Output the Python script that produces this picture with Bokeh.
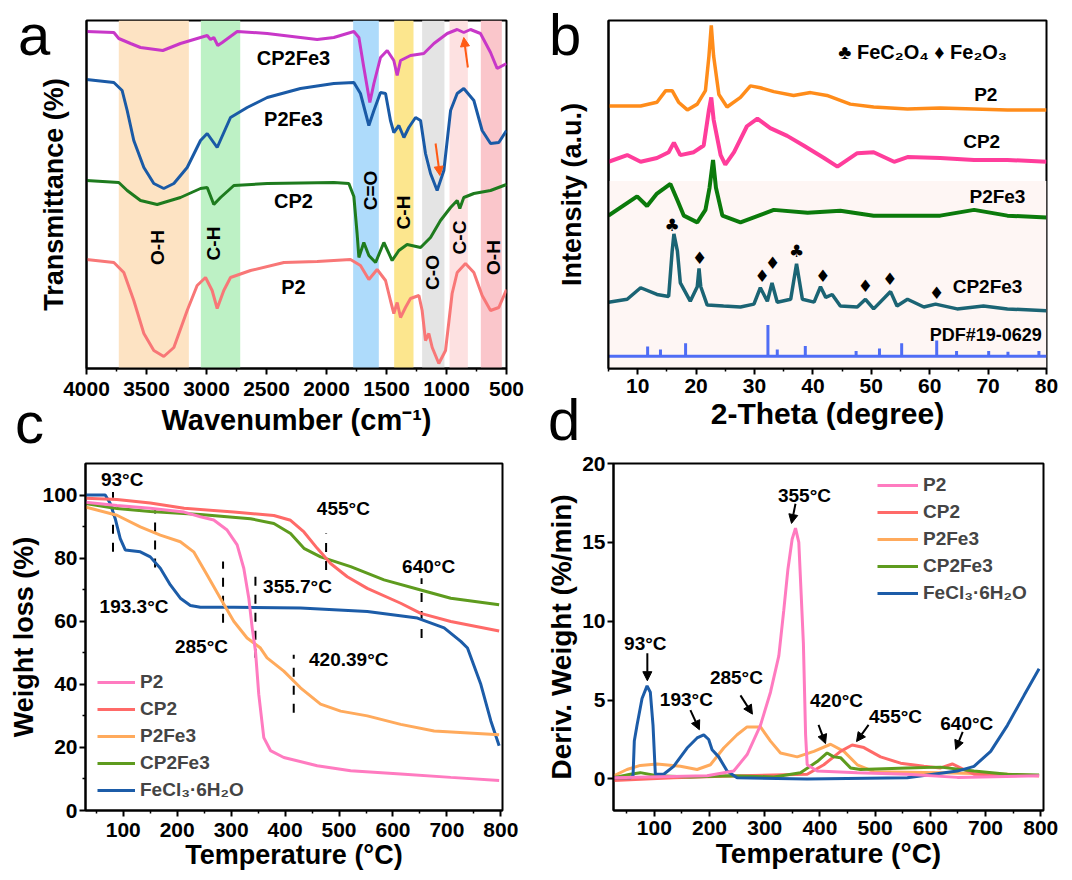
import numpy as np
from bokeh.plotting import figure
from bokeh.models import (Range1d, FixedTicker, Legend, LegendItem, Arrow,
                          NormalHead, ColumnDataSource, Div)
from bokeh.layouts import column, row
from bokeh.embed import file_html
from bokeh.resources import INLINE
from bokeh.core.properties import value

FONT = "Liberation Sans"

# ---------------- Panel a : FTIR (wavenumber, transmittance a.u.) ----------------
ftir_cp2fe3_w = [4000, 3772, 3731, 3633, 3550, 3364, 3217, 3050, 2994, 2967, 2939, 2906, 2869, 2744, 2494,
                 2217, 2078, 1939, 1772, 1730, 1689, 1639, 1605, 1550, 1494, 1439, 1411, 1383, 1300, 1189,
                 1105, 994, 911, 856, 800, 717, 633, 578, 500]
ftir_cp2fe3_t = [337, 336, 330, 325, 321, 318, 325, 331, 333, 329, 331, 323, 326, 337, 335,
                 331, 329, 331, 337, 331, 301, 266, 285, 311, 318, 308, 293, 308, 313, 315,
                 325, 335, 339, 336, 339, 335, 316, 300, 305]
ftir_p2fe3_w = [4000, 3772, 3703, 3661, 3606, 3522, 3439, 3356, 3272, 3161, 3050, 2994, 2911, 2800, 2661,
                2494, 2217, 1939, 1772, 1717, 1647, 1605, 1550, 1508, 1467, 1439, 1397, 1355, 1314, 1258,
                1216, 1175, 1133, 1078, 1022, 966, 911, 856, 772, 703, 633, 564, 500]
ftir_p2fe3_t = [289, 286, 278, 258, 228, 201, 185, 180, 185, 201, 228, 235, 221, 251, 261,
                271, 280, 285, 286, 275, 243, 258, 276, 275, 248, 236, 243, 231, 241, 251,
                248, 215, 195, 178, 198, 258, 275, 280, 268, 238, 225, 226, 238]
ftir_cp2_w = [4000, 3731, 3661, 3550, 3411, 3217, 3050, 2994, 2939, 2883, 2772, 2494, 1939, 1814, 1772,
              1745, 1730, 1689, 1647, 1591, 1522, 1453, 1397, 1328, 1216, 1133, 1050, 966, 911, 889,
              856, 772, 633, 500]
ftir_cp2_t = [188, 186, 178, 168, 164, 171, 180, 181, 164, 171, 183, 185, 186, 185, 172,
              135, 111, 126, 113, 106, 126, 108, 118, 124, 121, 131, 148, 161, 168, 160,
              171, 175, 178, 184]
ftir_p2_w = [4000, 3772, 3689, 3606, 3522, 3439, 3356, 3272, 3161, 3078, 3008, 2953, 2911, 2856, 2800,
             2633, 2355, 2078, 1800, 1717, 1647, 1578, 1508, 1467, 1439, 1411, 1383, 1342, 1300, 1230,
             1203, 1175, 1147, 1119, 1064, 1008, 953, 911, 842, 772, 703, 633, 564, 500]
ftir_p2_t = [109, 106, 96, 68, 35, 18, 12, 21, 58, 83, 91, 78, 60, 78, 91,
             98, 106, 107, 109, 103, 89, 99, 88, 68, 55, 66, 51, 61, 70, 73,
             58, 28, 35, 21, 5, 18, 75, 96, 105, 96, 73, 58, 61, 79]
band_lo = [3731, 3047, 1778, 1436, 1203, 975, 714]
band_hi = [3147, 2719, 1564, 1275, 1017, 822, 539]
band_colors = ["#FDE3C3", "#BDF1C5", "#AEDBFB", "#FCE68E", "#E4E4E4", "#FDE1E1", "#FAC6CB"]
band_names = ["O-H", "C-H", "C=O", "C-H", "C-O", "C-C", "O-H"]

# ---------------- Panel b : XRD (2-theta, intensity a.u.) ----------------
xrd_p2_x = [5.0, 10.5, 13.3, 14.8, 15.9, 17.0, 18.5, 20.2, 21.6, 22.2, 22.6, 23.0, 23.9, 25.3, 27.6, 29.3,
            31.0, 33.3, 36.7, 39.6, 42.4, 46.4, 50.4, 56.2, 61.8, 67.6, 73.3, 80.0]
xrd_p2_y = [273, 273, 277, 289, 289, 277, 269, 275, 289, 325, 357, 325, 285, 272, 282, 294,
            292, 288, 284, 287, 284, 275, 272, 270, 271, 270, 269, 269]
xrd_cp2_x = [5.0, 8.2, 10.5, 13.3, 15.3, 16.2, 17.3, 19.6, 21.3, 22.2, 22.6, 23.0, 24.2, 25.0, 26.5, 28.7,
             30.5, 32.7, 35.6, 38.4, 41.9, 44.2, 47.6, 50.4, 53.9, 56.2, 61.8, 67.6, 73.3, 80.0]
xrd_cp2_y = [215, 222, 215, 219, 225, 235, 222, 225, 232, 269, 282, 259, 222, 212, 225, 252,
             260, 250, 242, 232, 219, 210, 224, 225, 215, 220, 219, 217, 217, 215]
xrd_p2fe3_x = [5.0, 9.9, 11.6, 13.3, 15.6, 16.8, 17.9, 20.2, 21.6, 22.3, 22.9, 23.4, 24.5, 27.6, 33.3,
               39.1, 44.7, 50.4, 56.2, 61.8, 67.6, 73.3, 80.0]
xrd_p2fe3_y = [159, 179, 169, 182, 192, 175, 159, 152, 165, 188, 217, 188, 159, 152, 165,
               162, 164, 159, 159, 159, 165, 159, 157]
xrd_cp2fe3_x = [5.0, 8.2, 10.5, 13.3, 15.3, 15.9, 16.2, 16.8, 17.3, 19.0, 20.2, 20.5, 20.8, 21.9, 24.7,
                27.6, 29.9, 31.0, 32.2, 33.0, 33.9, 36.2, 37.2, 38.2, 40.2, 41.3, 42.2, 43.3, 44.7,
                47.6, 49.0, 50.4, 53.3, 54.4, 56.2, 59.0, 61.0, 64.7, 69.2, 73.3, 80.0]
xrd_cp2fe3_y = [69, 72, 84, 77, 75, 122, 140, 122, 89, 70, 85, 104, 85, 66, 65,
                64, 67, 84, 70, 89, 69, 72, 109, 72, 69, 85, 74, 77, 65,
                64, 72, 62, 80, 65, 72, 64, 67, 62, 65, 62, 60]
pdf_x = [11.7, 13.9, 18.2, 32.3, 33.9, 38.7, 47.4, 51.4, 55.2, 61.2, 64.6, 70.1, 73.4, 78.7]
pdf_h = [10.3, 7.0, 13.6, 32.6, 7.0, 10.6, 5.6, 8.0, 13.6, 16.3, 5.6, 5.6, 4.8, 5.6]
pdf_base = 12.7
club_x = [15.9, 37.2]
club_y = [149, 122]
diam_x = [20.6, 31.3, 33.1, 41.7, 49.0, 53.2, 61.2]
diam_y = [115, 96, 110, 96, 86, 93, 79]

# ---------------- Panel c : TGA (temperature, weight %) ----------------
tga_fecl3_x = [30, 66.6, 75.9, 85.1, 94.4, 103.7, 131.6, 150.1, 168.7, 187.3, 205.8, 224.4, 243.0, 304.8,
               428.6, 552.4, 645.3, 694.8, 725.7, 738.1, 762.8, 781.4, 796.8]
tga_fecl3_y = [100, 100, 97.3, 92.5, 86.2, 82.6, 82.0, 80.4, 76.8, 71.5, 67.3, 65.0, 64.4, 64.4,
               64.2, 63.1, 61.0, 57.9, 53.6, 51.5, 40.0, 28.4, 20.5]
tga_p2_x = [30, 88.3, 150, 212.8, 243, 267.7, 292.5, 311.1, 323.4, 332.7, 339, 345.1, 351.2, 360.5, 372.9,
            397.6, 459.5, 521.5, 614.3, 707.1, 796.8]
tga_p2_y = [97.7, 96.7, 95.8, 94.6, 93.1, 92.1, 88.9, 84.2, 76.8, 67.3, 57.9, 50.5, 36.8, 23.1, 19.0,
            16.8, 14.2, 12.6, 11.6, 10.5, 9.5]
tga_cp2_x = [30, 88.3, 150, 212.8, 304.8, 379.2, 410.1, 434.9, 459.6, 484.3, 515.3, 552.4, 614.3, 651.4,
             707.1, 796.8]
tga_cp2_y = [99, 98.6, 97.5, 95.8, 94.6, 93.5, 92.0, 88.3, 83.1, 78.3, 74.1, 70.4, 65.7, 62.5, 59.9, 56.9]
tga_p2fe3_x = [30, 88.3, 131.6, 168.7, 205.8, 230.5, 255.2, 280, 304.8, 329.5, 354.3, 366.6, 397.6, 428.5,
               465.7, 502.9, 552.4, 614.3, 676.2, 796.8]
tga_p2fe3_y = [96.2, 93.6, 89.9, 87.3, 85.2, 82.0, 74.7, 67.3, 60.0, 54.7, 51.5, 48.4, 44.2, 38.9,
               33.7, 31.5, 30.0, 27.3, 25.2, 24.0]
tga_cp2fe3_x = [30, 88.3, 150, 243, 335.8, 379.2, 410.1, 434.9, 465.8, 521.5, 583.4, 651.4, 707.1, 796.8]
tga_cp2fe3_y = [97.3, 95.7, 94.8, 93.8, 92.5, 91.0, 87.8, 83.1, 80.4, 77.3, 73.1, 69.9, 67.3, 65.2]
tga_mark_x = [81, 159, 285, 345, 416, 476, 653]
tga_mark_lo = [82, 77, 59.5, 48.4, 31, 76.2, 54.7]
tga_mark_hi = [101, 95.7, 78.9, 74.7, 49.4, 87.8, 73.6]
tga_lab_text = ["93°C", "193.3°C", "285°C", "355.7°C", "455°C", "640°C", "420.39°C"]

# ---------------- Panel d : DTG (temperature, %/min) ----------------
dtg_fecl3_x = [26, 56.5, 61.4, 63.7, 68.6, 77.7, 86.8, 92.7, 97.6, 101.8, 116.9, 135, 159.3, 177.4, 189.5,
               198.5, 204.6, 216.6, 231.8, 249.9, 376.9, 558.2, 648.9, 679.1, 709.3, 739.6, 769.8, 797]
dtg_fecl3_y = [0.08, 0.08, 0.2, 2.4, 3.4, 5.1, 5.9, 5.5, 3.4, 0.3, 0.3, 0.8, 1.96, 2.6, 2.8,
               2.5, 1.85, 1.4, 0.5, 0.08, 0.0, 0.08, 0.5, 0.8, 1.75, 3.4, 5.3, 6.98]
dtg_p2_x = [26, 195.5, 243.8, 268.1, 292.2, 310.4, 325.5, 334.5, 342, 349.6, 355.7, 361.7, 366, 370, 374,
            376.9, 395, 467.6, 558, 649, 797]
dtg_p2_y = [0.08, 0.2, 0.5, 1.55, 3.4, 5.5, 7.8, 10.7, 13.3, 15.2, 15.9, 15.0, 11.7, 8.6, 2.8,
            0.9, 0.5, 0.4, 0.3, 0.1, 0.2]
dtg_cp2_x = [26, 135, 256, 377, 407, 437.3, 458.4, 479.6, 509.8, 546.1, 588.4, 618.6, 639.8, 660.9, 679, 797]
dtg_cp2_y = [-0.1, 0.08, 0.2, 0.3, 0.9, 1.75, 2.15, 1.99, 1.4, 1.0, 0.8, 0.7, 0.95, 0.6, 0.3, 0.2]
dtg_p2fe3_x = [26, 50.4, 74.6, 104.8, 147.2, 177.4, 201.6, 225.7, 249.9, 268, 292.2, 310.4, 328.5, 358.8,
               389, 419.2, 443.4, 467.6, 497.7, 618.6, 739.6, 797]
dtg_p2fe3_y = [0.2, 0.6, 0.86, 0.95, 0.8, 0.6, 0.9, 1.96, 2.8, 3.3, 3.3, 2.4, 1.65, 1.4,
               1.75, 2.2, 1.75, 0.9, 0.46, 0.4, 0.3, 0.2]
dtg_cp2fe3_x = [26, 56.5, 74.6, 104.8, 165.3, 237.8, 316.4, 364.8, 395, 413.1, 425.2, 437.3, 455.4, 473.5,
                558.2, 618.6, 679, 739.6, 797]
dtg_cp2fe3_y = [0.08, 0.3, 0.4, 0.2, 0.13, 0.2, 0.13, 0.4, 1.1, 1.65, 1.4, 1.35, 0.7, 0.6,
                0.7, 0.75, 0.5, 0.3, 0.25]
dtg_lab_text = ["93°C", "193°C", "285°C", "355°C", "420°C", "455°C", "640°C"]

series_names = ["P2", "CP2", "P2Fe3", "CP2Fe3", "FeCl₃·6H₂O"]
panel_letters = ["a", "b", "c", "d"]
col_p2, col_cp2, col_p2fe3, col_cp2fe3, col_fecl3 = "#FF7BC0", "#FF6A68", "#FFAA5C", "#5E9B1E", "#1C5CA8"


def base_fig(w, h, xr, yr, bl, br, bt, bb):
    p = figure(width=w, height=h, x_range=xr, y_range=yr, output_backend="svg",
               toolbar_location=None, min_border_left=bl, min_border_right=br,
               min_border_top=bt, min_border_bottom=bb)
    p.grid.visible = False
    p.outline_line_color = "black"
    p.outline_line_width = 2
    p.outline_line_alpha = 1
    p.background_fill_color = "white"
    p.border_fill_color = "white"
    for ax in [p.xaxis[0], p.yaxis[0]]:
        ax.axis_line_width = 2
        ax.axis_line_color = "black"
        ax.major_tick_line_width = 2
        ax.minor_tick_line_width = 1.5
        ax.major_tick_in = 0
        ax.major_tick_out = 6
        ax.minor_tick_in = 0
        ax.minor_tick_out = 3
        ax.major_label_text_font = FONT
        ax.major_label_text_font_style = "bold"
        ax.major_label_text_font_size = "21px"
        ax.major_label_text_color = "black"
        ax.axis_label_text_font = FONT
        ax.axis_label_text_font_style = "bold"
        ax.axis_label_text_font_size = "27px"
        ax.axis_label_text_color = "black"
    return p


def txt(p, xs, ys, texts, size, angle=0.0, bold=True, align="center"):
    p.text(x=xs, y=ys, text=texts, text_font=value(FONT), text_font_size=size,
           text_font_style="bold" if bold else "normal", text_align=align,
           text_baseline="middle", text_color="black", angle=angle)


def letter(ch, left, top):
    return Div(text=f'<span style="font-family:\'Liberation Sans\';font-size:58px;line-height:58px;'
                    f'color:black;font-weight:normal">{ch}</span>',
               width=50, height=66,
               styles={"position": "absolute", "left": f"{left}px", "top": f"{top}px",
                       "margin": "0", "padding": "0", "z-index": "10"})


# ================= Panel a =================
pa = base_fig(540, 446, Range1d(4000, 500), Range1d(0, 348), 86, 34, 20, 78)
pa.quad(left=band_lo, right=band_hi, bottom=0, top=348, fill_color=band_colors, line_color=None)
pa.line(ftir_cp2fe3_w, ftir_cp2fe3_t, color="#C837C8", line_width=3)
pa.line(ftir_p2fe3_w, ftir_p2fe3_t, color="#1A5AA6", line_width=3)
pa.line(ftir_cp2_w, ftir_cp2_t, color="#1E7B1E", line_width=3)
pa.line(ftir_p2_w, ftir_p2_t, color="#F87777", line_width=3)
txt(pa, [2275, 2275, 2275, 2275], [311, 250, 168, 82], ["CP2Fe3", "P2Fe3", "CP2", "P2"], "20px")
txt(pa, [3408, 2942, 1633, 1358, 1117, 892, 608], [121, 125, 178, 156, 96, 131, 111], band_names,
    "19px", angle=np.pi / 2)
arr_a = ColumnDataSource(dict(x0=[822, 1091], y0=[301, 225], x1=[856, 1055], y1=[331, 193]))
pa.add_layout(Arrow(end=NormalHead(size=9, fill_color="#FF5A14", line_color="#FF5A14"),
                    x_start="x0", y_start="y0", x_end="x1", y_end="y1", source=arr_a,
                    line_color="#FF5A14", line_width=2))
pa.xaxis.ticker = FixedTicker(ticks=[4000, 3500, 3000, 2500, 2000, 1500, 1000, 500],
                              minor_ticks=[3750, 3250, 2750, 2250, 1750, 1250, 750])
pa.xaxis.axis_label = "Wavenumber (cm⁻¹)"
pa.xaxis.axis_label_text_font_size = "29px"
pa.xaxis.major_label_standoff = 7
pa.xaxis.axis_label_standoff = 5
pa.yaxis.ticker = FixedTicker(ticks=[])
pa.yaxis.major_tick_out = 0
pa.yaxis.axis_label = "Transmittance (%)"
pa.yaxis.axis_label_standoff = 18

# ================= Panel b =================
pb = base_fig(532, 446, Range1d(5, 80), Range1d(0, 362), 68, 26, 10, 74)
pb.quad(left=5, right=80, bottom=0, top=195, fill_color="#FEF6F4", line_color=None)
pb.line(xrd_p2_x, xrd_p2_y, color="#FF8C1A", line_width=3.5)
pb.line(xrd_cp2_x, xrd_cp2_y, color="#FF3D9B", line_width=4)
pb.line(xrd_p2fe3_x, xrd_p2fe3_y, color="#0B7A0B", line_width=4)
pb.line(xrd_cp2fe3_x, xrd_cp2fe3_y, color="#1B6474", line_width=3.5)
pb.segment(x0=pdf_x, y0=pdf_base, x1=pdf_x, y1=[pdf_base + h for h in pdf_h], color="#4F6DF5", line_width=3)
pb.segment(x0=5, y0=pdf_base, x1=80, y1=pdf_base, color="#4F6DF5", line_width=3)
pb.text(x=club_x, y=club_y, text=["♣"] * len(club_x), text_font=value("DejaVu Sans"), text_font_size="17px",
        text_align="center", text_baseline="middle", text_color="black")
pb.text(x=diam_x, y=diam_y, text=["♦"] * len(diam_x), text_font=value("DejaVu Sans"), text_font_size="17px",
        text_align="center", text_baseline="middle", text_color="black")
txt(pb, [69.6, 68.9, 71.6, 69.9], [285, 236, 179, 85], ["P2", "CP2", "P2Fe3", "CP2Fe3"], "19px")
txt(pb, [69.6], [35], ["PDF#19-0629"], "18px")
txt(pb, [58.8], [329], ["♣ FeC₂O₄ ♦ Fe₂O₃"], "20px")
pb.xaxis.ticker = FixedTicker(ticks=[10, 20, 30, 40, 50, 60, 70, 80],
                              minor_ticks=[5, 15, 25, 35, 45, 55, 65, 75])
pb.xaxis.axis_label = "2-Theta (degree)"
pb.xaxis.axis_label_text_font_size = "30px"
pb.xaxis.major_label_standoff = 4
pb.xaxis.axis_label_standoff = 1
pb.yaxis.ticker = FixedTicker(ticks=[])
pb.yaxis.major_tick_out = 0
pb.yaxis.axis_label = "Intensity (a.u.)"
pb.yaxis.axis_label_standoff = 22

# ================= Panel c =================
pc = base_fig(540, 434, Range1d(30, 803), Range1d(0, 110), 85, 38, 17, 70)
pc.segment(x0=tga_mark_x, y0=tga_mark_lo, x1=tga_mark_x, y1=tga_mark_hi, color="black",
           line_width=2, line_dash="9 9")
rc_fecl3 = pc.line(tga_fecl3_x, tga_fecl3_y, color=col_fecl3, line_width=3)
rc_cp2fe3 = pc.line(tga_cp2fe3_x, tga_cp2fe3_y, color=col_cp2fe3, line_width=3)
rc_cp2 = pc.line(tga_cp2_x, tga_cp2_y, color=col_cp2, line_width=3)
rc_p2fe3 = pc.line(tga_p2fe3_x, tga_p2fe3_y, color=col_p2fe3, line_width=3)
rc_p2 = pc.line(tga_p2_x, tga_p2_y, color=col_p2, line_width=3)
txt(pc, [98, 120, 245, 423, 508, 666, 518], [105, 64.7, 52, 71, 95.6, 77.3, 48], tga_lab_text, "19px")
pc.add_layout(Legend(items=[LegendItem(label=n, renderers=[r]) for n, r in
                            zip(series_names, [rc_p2, rc_cp2, rc_p2fe3, rc_cp2fe3, rc_fecl3])],
                     location=(12, 9), glyph_width=38, glyph_height=20, label_height=20, spacing=5,
                     padding=0, margin=0, label_standoff=5, border_line_color=None,
                     background_fill_alpha=0, label_text_font=FONT, label_text_font_style="bold",
                     label_text_font_size="19px"))
pc.xaxis.ticker = FixedTicker(ticks=[100, 200, 300, 400, 500, 600, 700, 800],
                              minor_ticks=[50, 150, 250, 350, 450, 550, 650, 750])
pc.yaxis.ticker = FixedTicker(ticks=[0, 20, 40, 60, 80, 100], minor_ticks=[10, 30, 50, 70, 90])
pc.xaxis.axis_label = "Temperature (°C)"
pc.yaxis.axis_label = "Weight loss (%)"
pc.xaxis.major_label_standoff = 6
pc.xaxis.axis_label_standoff = 0
pc.yaxis.major_label_standoff = 2
pc.yaxis.axis_label_standoff = 0

# ================= Panel d =================
pd_ = base_fig(532, 434, Range1d(26, 805), Range1d(-2, 20), 73, 29, 11, 70)
rd_p2fe3 = pd_.line(dtg_p2fe3_x, dtg_p2fe3_y, color=col_p2fe3, line_width=3)
rd_cp2 = pd_.line(dtg_cp2_x, dtg_cp2_y, color=col_cp2, line_width=3)
rd_cp2fe3 = pd_.line(dtg_cp2fe3_x, dtg_cp2fe3_y, color=col_cp2fe3, line_width=3)
rd_fecl3 = pd_.line(dtg_fecl3_x, dtg_fecl3_y, color=col_fecl3, line_width=3)
rd_p2 = pd_.line(dtg_p2_x, dtg_p2_y, color=col_p2, line_width=3)
txt(pd_, [83.7, 158, 248.7, 372, 430, 537, 666], [8.6, 5.05, 6.42, 17.94, 4.98, 3.93, 3.49],
    dtg_lab_text, "19px")
arr_d = ColumnDataSource(dict(x0=[87.3, 165.3, 256, 355.7, 397.4, 488.1, 658.6],
                              y0=[7.97, 4.36, 5.3, 17.45, 3.43, 3.43, 2.99],
                              x1=[87.3, 181.6, 277.7, 348.5, 410.1, 466.3, 645.9],
                              y1=[6.23, 3.12, 4.11, 16.2, 2.24, 2.37, 1.87]))
pd_.add_layout(Arrow(end=NormalHead(size=9, fill_color="black", line_color="black"),
                     x_start="x0", y_start="y0", x_end="x1", y_end="y1", source=arr_d,
                     line_color="black", line_width=2))
pd_.add_layout(Legend(items=[LegendItem(label=n, renderers=[r]) for n, r in
                             zip(series_names, [rd_p2, rd_cp2, rd_p2fe3, rd_cp2fe3, rd_fecl3])],
                      location=(264, 206), glyph_width=41, glyph_height=20, label_height=20, spacing=5,
                      padding=0, margin=0, label_standoff=5, border_line_color=None,
                      background_fill_alpha=0, label_text_font=FONT, label_text_font_style="bold",
                      label_text_font_size="19px"))
pd_.xaxis.ticker = FixedTicker(ticks=[100, 200, 300, 400, 500, 600, 700, 800],
                               minor_ticks=[50, 150, 250, 350, 450, 550, 650, 750])
pd_.yaxis.ticker = FixedTicker(ticks=[0, 5, 10, 15, 20])
pd_.xaxis.axis_label = "Temperature (°C)"
pd_.xaxis.axis_label_text_font_size = "28px"
pd_.yaxis.axis_label = "Deriv. Weight (%/min)"
pd_.yaxis.axis_label_text_font_size = "28px"
pd_.xaxis.major_label_standoff = 4
pd_.xaxis.axis_label_standoff = 0
pd_.yaxis.major_label_standoff = 2
pd_.yaxis.axis_label_standoff = 2

letters = [letter(panel_letters[0], 18, 6), letter(panel_letters[1], 549, 6),
           letter(panel_letters[2], 15, 394), letter(panel_letters[3], 548, 391)]

layout = column(row(pa, pb), row(pc, pd_), *letters)
open("out.html", "w").write(file_html(layout, INLINE))
